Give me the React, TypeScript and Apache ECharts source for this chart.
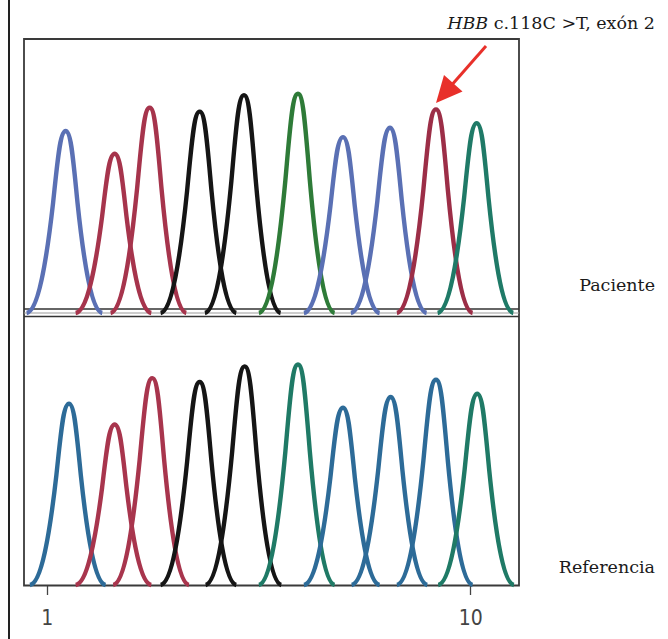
import React, { useEffect, useRef } from "react";
import * as echarts from "echarts";

// ---- Data ----
// Peak centres in scan units (trace axis 0..495) and peak heights (% of panel height)
const PACIENTE_BASES = ["C", "T", "T", "G", "G", "A", "C", "C", "T", "A"];
const PACIENTE_POS = [41.7, 90.7, 125.7, 175.7, 220, 274, 319, 366, 412, 452.7];
const PACIENTE_HEIGHT = [66.4, 58.1, 74.9, 73.5, 79.5, 80.0, 64.2, 67.6, 74.3, 69.3];

const REFERENCIA_BASES = ["C", "T", "T", "G", "G", "A", "C", "C", "C", "A"];
const REFERENCIA_POS = [45, 90.7, 128.3, 175.7, 220.7, 274, 319, 366.7, 412, 453.3];
const REFERENCIA_HEIGHT = [66.2, 58.6, 75.5, 74.1, 79.8, 80.5, 64.7, 68.6, 74.9, 69.8];

const AXIS_TICKS = [1, 10];

// ---- Styles ----
const PACIENTE_STROKE = [
  "#5a70b4", "#a6344c", "#a6344c", "#151515", "#151515",
  "#2e7b38", "#5a70b4", "#5a70b4", "#9c2e47", "#1f7a67",
];
const REFERENCIA_STROKE = [
  "#2d6b98", "#a8354d", "#a8354d", "#151515", "#151515",
  "#1f7a66", "#2d6b98", "#2d6b98", "#2d6b98", "#1f7a66",
];

const SERIF = '"DejaVu Serif", "Liberation Serif", serif';
const NARROW = '"Liberation Sans Narrow", "DejaVu Sans Condensed", "Roboto", sans-serif';

export default function App() {
  const ref = useRef<HTMLDivElement>(null);

  useEffect(() => {
    if (!ref.current) return;
    const chart = echarts.init(ref.current, null, { renderer: "svg" });

    const SIG_L = 12.6;
    const SIG_R = 11.8;

    const renderPeak = (params: any, api: any) => {
      const c = api.value(0);
      const h = api.value(1);
      const P = (u: number, v: number) => {
        const s = u < 0 ? SIG_L : SIG_R;
        const p = api.coord([c + u * s, v * h]);
        return p[0].toFixed(2) + " " + p[1].toFixed(2);
      };
      const d =
        "M" + P(-3.1, 0) +
        " C" + P(-2.2, 0.01) + " " + P(-1.55, 0.27) + " " + P(-1, 0.6065) +
        " C" + P(-0.62, 0.8535) + " " + P(-0.45, 1) + " " + P(0, 1) +
        " C" + P(0.45, 1) + " " + P(0.62, 0.8535) + " " + P(1, 0.6065) +
        " C" + P(1.55, 0.27) + " " + P(2.2, 0.01) + " " + P(3.1, 0);
      return {
        type: "path",
        shape: { pathData: d },
        style: {
          fill: "none",
          stroke: api.visual("color"),
          lineWidth: 4.4,
          lineJoin: "round",
        },
      };
    };

    const mk = (pos: number[], hts: number[], strokes: string[], bases: string[]) =>
      pos.map((x, i) => ({
        name: bases[i],
        value: [x, hts[i]],
        itemStyle: { color: strokes[i] },
      }));

    const option: any = {
      animation: false,
      backgroundColor: "#ffffff",
      grid: [
        { left: 24, top: 39, width: 495, height: 274 },
        { left: 24, top: 311, width: 495, height: 274 },
        { left: 47.3, top: 311, width: 423.4, height: 274 },
      ],
      xAxis: [
        { type: "value", gridIndex: 0, min: 0, max: 495, show: false },
        { type: "value", gridIndex: 1, min: 0, max: 495, show: false },
        {
          type: "log",
          gridIndex: 2,
          logBase: 10,
          min: AXIS_TICKS[0],
          max: AXIS_TICKS[1],
          axisLine: { show: false },
          axisTick: { show: true, length: 10, lineStyle: { color: "#444", width: 1.3 } },
          splitLine: { show: false },
          axisLabel: {
            color: "#444",
            fontSize: 21,
            fontFamily: NARROW,
            margin: 22,
          },
        },
      ],
      yAxis: [
        { type: "value", gridIndex: 0, min: 0, max: 100, show: false },
        { type: "value", gridIndex: 1, min: 0, max: 100, show: false },
        { type: "value", gridIndex: 2, min: 0, max: 100, show: false },
      ],
      series: [
        {
          name: "Paciente",
          type: "custom",
          xAxisIndex: 0,
          yAxisIndex: 0,
          renderItem: renderPeak,
          data: mk(PACIENTE_POS, PACIENTE_HEIGHT, PACIENTE_STROKE, PACIENTE_BASES),
          z: 3,
        },
        {
          name: "Referencia",
          type: "custom",
          xAxisIndex: 1,
          yAxisIndex: 1,
          renderItem: renderPeak,
          data: mk(REFERENCIA_POS, REFERENCIA_HEIGHT, REFERENCIA_STROKE, REFERENCIA_BASES),
          z: 3,
        },
      ],
      graphic: [
        {
          type: "line",
          silent: true,
          z: 1,
          shape: { x1: 9, y1: 0, x2: 9, y2: 639 },
          style: { stroke: "#222", lineWidth: 2 },
        },
        {
          type: "rect",
          silent: true,
          z: 1,
          shape: { x: 24, y: 39, width: 495, height: 546.5 },
          style: { fill: "none", stroke: "#3a3a3a", lineWidth: 1.8 },
        },
        {
          type: "line",
          silent: true,
          z: 1,
          shape: { x1: 24, y1: 309, x2: 519, y2: 309 },
          style: { stroke: "#333", lineWidth: 1.6 },
        },
        {
          type: "line",
          silent: true,
          z: 1,
          shape: { x1: 24, y1: 313, x2: 519, y2: 313 },
          style: { stroke: "#9a9a9a", lineWidth: 1 },
        },
        {
          type: "line",
          silent: true,
          z: 1,
          shape: { x1: 24, y1: 316.5, x2: 519, y2: 316.5 },
          style: { stroke: "#333", lineWidth: 1.6 },
        },
        {
          type: "line",
          silent: true,
          z: 10,
          shape: { x1: 486, y1: 46, x2: 450, y2: 87 },
          style: { stroke: "#e8302a", lineWidth: 3 },
        },
        {
          type: "polygon",
          silent: true,
          z: 10,
          shape: {
            points: [
              [436, 103],
              [462.5, 91.5],
              [444, 75],
            ],
          },
          style: { fill: "#e8302a" },
        },
        {
          type: "text",
          silent: true,
          z: 10,
          x: 655,
          y: 23,
          style: {
            text: "{i|HBB} c.118C >T, exón 2",
            align: "right",
            verticalAlign: "middle",
            fontFamily: SERIF,
            fontSize: 17.5,
            fill: "#1a1a1a",
            rich: {
              i: {
                fontStyle: "italic",
                fontFamily: SERIF,
                fontSize: 17.5,
                fill: "#1a1a1a",
              },
            },
          },
        },
        {
          type: "text",
          silent: true,
          z: 10,
          x: 655,
          y: 285,
          style: {
            text: "Paciente",
            align: "right",
            verticalAlign: "middle",
            fontFamily: SERIF,
            fontSize: 17.5,
            fill: "#1a1a1a",
          },
        },
        {
          type: "text",
          silent: true,
          z: 10,
          x: 655,
          y: 567,
          style: {
            text: "Referencia",
            align: "right",
            verticalAlign: "middle",
            fontFamily: SERIF,
            fontSize: 17.5,
            fill: "#1a1a1a",
          },
        },
      ],
    };

    chart.setOption(option);
    return () => {
      chart.dispose();
    };
  }, []);

  return (
    <div
      ref={ref}
      style={{
        position: "fixed",
        left: 0,
        top: 0,
        width: 668,
        height: 639,
        background: "#ffffff",
      }}
    />
  );
}
